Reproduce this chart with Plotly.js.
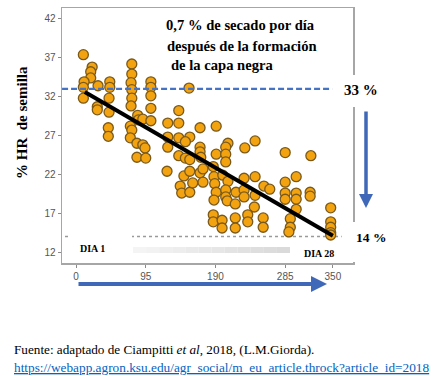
<!DOCTYPE html>
<html>
<head>
<meta charset="utf-8">
<script src="https://cdn.plot.ly/plotly-3.0.1.min.js"></script>
<style>html,body{margin:0;padding:0;background:#fff;}#chart{width:441px;height:376px;}</style>
</head>
<body>
<div id="chart"></div>
<script>
// ---- data (days after start, % seed moisture) ----
const days = [10,22,20,20,11,10,30,10,29,29,
  46,46,45,45,44,44,
  76,76,75,76,76,75,74,76,74,
  84,85,91,83,91,94,83,95,
  102,102,102,102,102,
  140,125,140,154,169,125,140,155,149,125,169,169,140,149,155,170,124,147,155,169,173,142,144,155,159,173,
  191,207,204,244,230,191,204,204,187,188,200,207,229,244,189,191,204,204,218,229,229,244,256,188,206,217,243,
  187,187,199,199,217,217,234,234,255,255,
  285,320,300,285,264,285,285,300,300,319,319,300,347,292,292,290,347,347,347,347];
const moisture = [37.4,35.8,35.2,34.4,33.9,33.2,33.4,31.8,30.7,30.3,
  33.9,33.2,31.8,30.0,28.0,26.9,
  36.2,34.9,33.8,32.9,31.8,30.8,28.2,27.7,26.7,
  29.6,29.0,29.1,26.0,25.8,25.4,24.2,24.1,
  33.9,33.2,32.1,30.5,28.9,
  30.2,28.6,28.6,33.1,28.0,26.8,26.7,26.8,26.2,25.5,25.5,24.9,24.4,24.1,23.9,24.2,22.4,21.8,22.4,22.2,22.7,20.5,19.6,19.7,20.9,21.0,
  28.2,26.0,25.5,26.3,25.4,24.6,24.6,23.6,23.0,21.7,21.9,21.1,21.5,21.7,20.8,19.7,20.0,19.1,19.7,20.0,19.1,19.3,20.5,18.7,18.6,18.2,17.8,
  16.8,15.9,16.1,15.1,16.4,15.1,16.8,15.9,16.4,15.2,
  24.8,24.4,21.7,21.0,20.1,19.6,18.8,19.6,18.8,19.7,19.2,17.5,17.7,16.3,15.2,14.6,15.9,15.2,14.5,14.2];
const trendX = [12, 350];
const trendY = [32.6, 14.1];
const upperLevel = 33;   // % at black layer start
const lowerLevel = 14;   // % at day 28
const upperLineX = [-19, 349];
const lowerLineX = [-15, 362];
const xTicks = [0, 95, 190, 285, 350];
const yTicks = [12, 17, 22, 27, 32, 37, 42];

// ---- layout helpers (pixel -> paper) ----
const L = 62, T = 8, W = 291, H = 255;
const px = x => (x - L) / W;
const py = y => (T + H - y) / H;

const serif = 'Liberation Serif, Times New Roman, serif';

const traces = [
  {x: lowerLineX, y: [lowerLevel, lowerLevel], mode: 'lines', line: {color: '#9a9a9a', width: 1.5, dash: 'dot'}, hoverinfo: 'skip'},
  {x: days, y: moisture, mode: 'markers', type: 'scatter',
   marker: {size: 10, color: '#F2A30F', line: {color: '#7a5a1c', width: 1.3}}},
  {x: upperLineX, y: [upperLevel, upperLevel], mode: 'lines', line: {color: '#4472C4', width: 2.2, dash: '6px,3px'}, hoverinfo: 'skip'},
  {x: trendX, y: trendY, mode: 'lines', line: {color: '#000', width: 4}, hoverinfo: 'skip'}
];

const shapes = [];
// light grey gradient bar
const gStart = 133, gEnd = 290, nSeg = 12;
for (let i = 0; i < nSeg; i++) {
  const c = Math.round(244 - i * 2.4);
  shapes.push({type: 'rect', xref: 'paper', yref: 'paper', layer: 'above',
    x0: px(gStart + (gEnd - gStart) * i / nSeg), x1: px(gStart + (gEnd - gStart) * (i + 1) / nSeg),
    y0: py(253), y1: py(247), fillcolor: `rgb(${c},${c},${c})`, line: {width: 0}});
}
// white boxes behind labels
[[340, 400, 75, 107], [68, 132, 232, 259], [343, 420, 222, 262]].forEach(b => {
  shapes.push({type: 'rect', xref: 'paper', yref: 'paper', layer: 'above',
    x0: px(b[0]), x1: px(b[1]), y0: py(b[3]), y1: py(b[2]), fillcolor: '#fff', line: {width: 0}});
});

const ann = (text, x, y, size, extra) => Object.assign({
  text, xref: 'paper', yref: 'paper', x: px(x), y: py(y), showarrow: false,
  xanchor: 'center', yanchor: 'middle', font: {family: serif, size, color: '#000'}
}, extra || {});

const annotations = [
  ann('<b>0,7 % de secado por día</b>', 164, 25, 14.6, {xanchor: 'left'}),
  ann('<b>después de la formación</b>', 165, 46, 14.6, {xanchor: 'left'}),
  ann('<b>de la capa negra</b>', 169, 65, 14.6, {xanchor: 'left'}),
  ann('<b>33 %</b>', 361, 90, 15),
  ann('<b>14 %</b>', 371, 237, 13.5),
  ann('<b>DIA 1</b>', 92, 248.5, 10),
  ann('<b>DIA 28</b>', 319, 253.5, 10),
  ann('<b>% HR  de semilla</b>', 22, 123, 15, {textangle: -90}),
  ann('Fuente: adaptado de Ciampitti <i>et al</i>, 2018, (L.M.Giorda).', 12, 349, 13.2, {xanchor: 'left'}),
  ann('<span style="text-decoration:underline">https://webapp.agron.ksu.edu/agr_social/m_eu_article.throck?article_id=2018</span>', 12, 368, 13.3,
      {xanchor: 'left', font: {family: serif, size: 13.3, color: '#0563C1'}}),
  // arrows
  {text: '', xref: 'paper', yref: 'paper', x: px(366), y: py(208), ax: 0, ay: -98, axref: 'pixel', ayref: 'pixel',
   showarrow: true, arrowhead: 2, arrowsize: 0.8, arrowwidth: 3.5, arrowcolor: '#3F68B8'},
  {text: '', xref: 'paper', yref: 'paper', x: px(327), y: py(284), ax: -250, ay: 0, axref: 'pixel', ayref: 'pixel',
   showarrow: true, arrowhead: 2, arrowsize: 0.8, arrowwidth: 4, arrowcolor: '#3F68B8'}
];

const axisCommon = {showgrid: false, zeroline: false, showline: true, linecolor: '#a6a6a6', linewidth: 1.5,
  mirror: true, ticks: 'outside', ticklen: 3, tickcolor: '#8a8a8a', tickwidth: 1,
  tickfont: {family: 'Liberation Sans, Arial, sans-serif', size: 10, color: '#555'}};

const layout = {
  width: 441, height: 376,
  margin: {l: L, r: 441 - L - W, t: T, b: 376 - T - H, pad: 0},
  paper_bgcolor: '#fff', plot_bgcolor: '#fff',
  showlegend: false,
  xaxis: Object.assign({}, axisCommon, {range: [-19.1, 377.4], tickmode: 'array', tickvals: xTicks, ticktext: xTicks.map(String)}),
  yaxis: Object.assign({}, axisCommon, {range: [10.6, 43.4], tickmode: 'array', tickvals: yTicks, ticktext: yTicks.map(String)}),
  shapes, annotations
};

Plotly.newPlot('chart', traces, layout, {staticPlot: true, displayModeBar: false});
</script>
</body>
</html>
